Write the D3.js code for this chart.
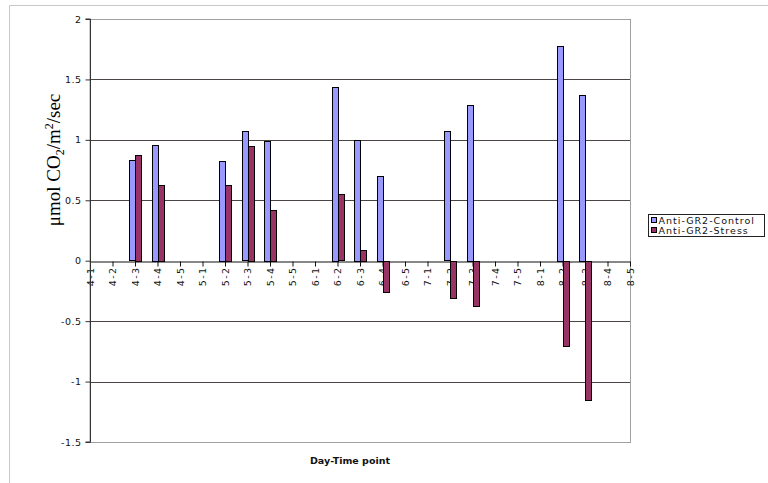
<!DOCTYPE html>
<html><head><meta charset="utf-8">
<script src="https://cdn.jsdelivr.net/npm/d3@7"></script>
<style>body{margin:0;background:#fff}svg{display:block}</style>
</head><body>
<svg id="c" width="768" height="483"></svg>
<script>
const categories = ["4-1","4-2","4-3","4-4","4-5","5-1","5-2","5-3","5-4","5-5","6-1","6-2","6-3","6-4","6-5","7-1","7-2","7-3","7-4","7-5","8-1","8-2","8-3","8-4","8-5"];
const controlValues = [null,null,0.83,0.96,null,null,0.825,1.07,0.99,null,null,1.44,1.0,0.70,null,null,1.07,1.29,null,null,null,1.78,1.37,null,null];
const stressValues  = [null,null,0.875,0.63,null,null,0.63,0.95,0.42,null,null,0.55,0.09,-0.26,null,null,-0.31,-0.37,null,null,null,-0.70,-1.15,null,null];
const seriesNames = ["Anti-GR2-Control","Anti-GR2-Stress"];
const seriesColors = ["#9999FF","#993366"];
const yTicks = [-1.5,-1,-0.5,0,0.5,1,1.5,2];

const svg = d3.select("#c");
const L=90,R=630,T=19,B=442;
const x = d3.scalePoint().domain(categories).range([L,R]).padding(0);
const y = d3.scaleLinear().domain([-1.5,2]).range([B,T]);
const font = "Verdana, 'DejaVu Sans', sans-serif";

// chart area border
svg.append("path").attr("d","M9.5,483 V5.5 H768").attr("fill","none").attr("stroke","#c8c8c8");

// plot border
svg.append("rect").attr("x",L).attr("y",T+0.5).attr("width",R-L+0.5).attr("height",B-T)
  .attr("fill","none").attr("stroke","#a0a0a0");

// gridlines
svg.append("g").selectAll("line").data(yTicks.filter(v=>v>-1.5 && v<2 && v!==0)).join("line")
  .attr("x1",L).attr("x2",R).attr("y1",d=>Math.round(y(d))+0.5).attr("y2",d=>Math.round(y(d))+0.5)
  .attr("stroke","#4a4444");

// x axis at zero
const xAxis = svg.append("g").attr("transform",`translate(0,${Math.round(y(0))+0.5})`)
  .call(d3.axisBottom(x).tickSize(5).tickSizeOuter(0));
xAxis.select(".domain").attr("stroke","#111");
xAxis.selectAll(".tick line").attr("stroke","#111");
xAxis.selectAll("text").attr("font-family",font).attr("font-size","9.5px").attr("fill","#111")
  .attr("letter-spacing","1.4px")
  .attr("transform","rotate(-90)").attr("text-anchor","end").attr("dy","0.35em").attr("x",-5).attr("y",0);

// bars
const bw = 6;
const series = [controlValues, stressValues];
series.forEach((vals,si)=>{
  svg.append("g").selectAll("rect").data(categories.map((c,i)=>({c,v:vals[i]})).filter(d=>d.v!==null)).join("rect")
    .attr("x",d=>Math.round(x(d.c)) - bw + si*bw + 0.5)
    .attr("y",d=>Math.round(Math.min(y(d.v),y(0)))+0.5)
    .attr("width",bw)
    .attr("height",d=>Math.max(1,Math.round(Math.abs(y(d.v)-y(0)))))
    .attr("fill",seriesColors[si]).attr("stroke","#000").attr("stroke-width",1);
});

// y axis
const yAxis = svg.append("g").attr("transform",`translate(${L+0.5},0)`)
  .call(d3.axisLeft(y).tickValues(yTicks).tickSize(5).tickPadding(4).tickFormat(d=>String(d)));
yAxis.select(".domain").attr("stroke","#333").attr("d",`M-5,${y(-1.5)}H0V${y(2)}H-5`);
yAxis.selectAll(".tick line").attr("stroke","#333");
yAxis.selectAll("text").attr("font-family",font).attr("font-size","9.5px").attr("fill","#111")
  .attr("letter-spacing","0.5px");

// axis titles
svg.append("text").attr("x",350).attr("y",464).attr("text-anchor","middle")
  .attr("font-family",font).attr("font-size","9.5px").attr("font-weight","bold").attr("fill","#111")
  .text("Day-Time point");

const yt = svg.append("text").attr("transform","translate(60,160) rotate(-90)").attr("text-anchor","middle")
  .attr("font-family","'Liberation Serif','Times New Roman',serif").attr("font-size","19px").attr("fill","#000");
yt.append("tspan").text("μmol CO");
yt.append("tspan").attr("font-size","12px").attr("dy","4").text("2");
yt.append("tspan").attr("dy","-4").text("/m");
yt.append("tspan").attr("font-size","12px").attr("dy","-7").text("2");
yt.append("tspan").attr("dy","7").text("/sec");

// legend
const lg = svg.append("g").attr("transform","translate(648.5,214.5)");
lg.append("rect").attr("width",116).attr("height",22).attr("fill","#fff").attr("stroke","#222");
seriesNames.forEach((n,i)=>{
  lg.append("rect").attr("x",3).attr("y",3+i*10).attr("width",5).attr("height",5)
    .attr("fill",seriesColors[i]).attr("stroke","#000");
  lg.append("text").attr("x",10).attr("y",9.5+i*10).attr("font-family",font).attr("font-size","9.5px")
    .attr("letter-spacing","1px").attr("fill","#111").text(n);
});
</script>
</body></html>
